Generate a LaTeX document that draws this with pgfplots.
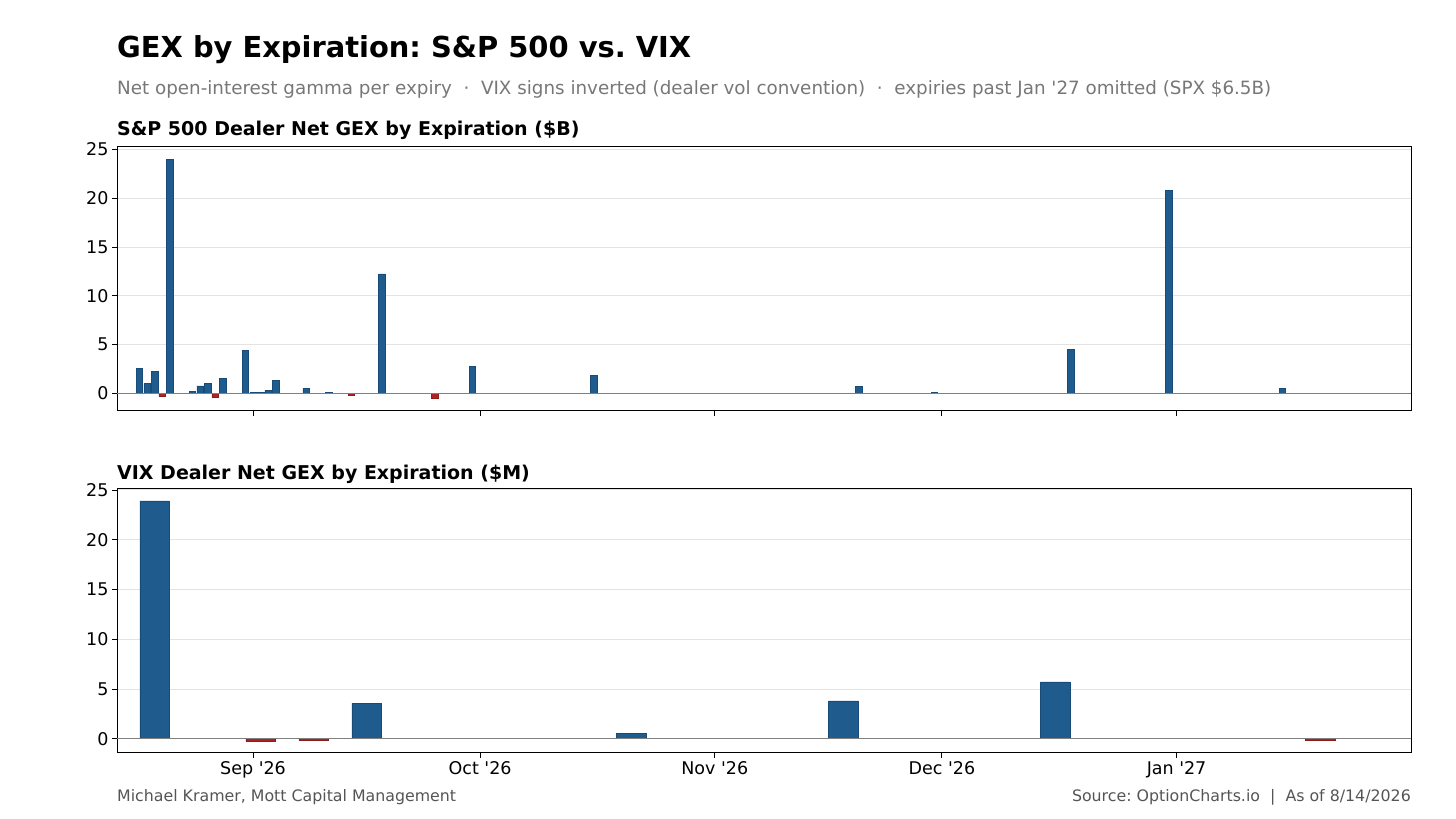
\documentclass[border=0pt]{standalone}
\usepackage{fontspec}
\setmainfont{DejaVu Sans}
\usepackage{pgfplots}
\pgfplotsset{compat=1.18}
\frenchspacing
\definecolor{barblue}{HTML}{1F5B8C}
\definecolor{baredge}{HTML}{184B78}
\definecolor{barred}{HTML}{B22222}
\definecolor{rededge}{HTML}{8E1A1A}
\definecolor{gridc}{HTML}{E3E3E3}
\definecolor{subgray}{HTML}{777777}
\definecolor{footgray}{HTML}{555555}
\definecolor{zerogray}{HTML}{808080}
\pgfplotsset{
  gexaxis/.style={
    scale only axis, width=1294pt, height=264pt,
    xmin=-17.97, xmax=152.97,
    axis line style={black, line width=1pt},
    tick style={black, line width=0.9pt},
    tick align=outside, tick pos=left,
    major tick length=5pt,
    ytick={0,5,10,15,20,25},
    xtick={0,30,61,91,122},
    ymajorgrids, grid style={gridc, line width=1pt},
    tick label style={font=\fontsize{17.5}{20}\selectfont},
    /pgf/number format/assume math mode=true,
  },
  posbar/.style={ybar, bar shift=0pt, fill=barblue, draw=baredge, line width=0.6pt},
  negbar/.style={ybar, bar shift=0pt, fill=barred, draw=rededge, line width=0.6pt},
}
\begin{document}
\frenchspacing
\begin{tikzpicture}
\useasboundingbox (0,0) rectangle (1456pt,819pt);
% titles
\node[anchor=base west, inner sep=0pt, font=\fontsize{28.9}{32}\selectfont\bfseries] at (117pt,761pt) {GEX by Expiration: S\&P 500 vs. VIX};
\node[anchor=base west, inner sep=0pt, text=subgray, font=\fontsize{18.3}{21}\selectfont] at (117pt,724pt) {Net open-interest gamma per expiry \ \textperiodcentered\ \ VIX signs inverted (dealer vol convention) \ \textperiodcentered\ \ expiries past Jan \textquotesingle 27 omitted (SPX \$6.5B)};
\node[anchor=base west, inner sep=0pt, font=\fontsize{19}{22}\selectfont\bfseries] at (117pt,683pt) {S\&P 500 Dealer Net GEX by Expiration (\$B)};
\node[anchor=base west, inner sep=0pt, font=\fontsize{19}{22}\selectfont\bfseries] at (117pt,339.5pt) {VIX Dealer Net GEX by Expiration (\$M)};
% footer
\node[anchor=base west, inner sep=0pt, text=footgray, font=\fontsize{15.8}{18}\selectfont] at (117pt,17pt) {Michael Kramer, Mott Capital Management};
\node[anchor=base east, inner sep=0pt, text=footgray, font=\fontsize{15.8}{18}\selectfont] at (1411pt,17pt) {Source: OptionCharts.io \ | \ As of 8/14/2026};

% top panel: S&P 500 ($B); x = days from 1 Sep 2026
\begin{axis}[gexaxis, at={(117pt,408pt)}, anchor=south west,
  ymin=-1.8, ymax=25.26, xticklabels={}]
\addplot[posbar, bar width=0.85] coordinates {
 (-15,2.6) (-14,1.0) (-13,2.25) (-11,24.0) (-8,0.2) (-7,0.78) (-6,1.0)
 (-4,1.54) (-1,4.38) (0,0.1) (1,0.1) (2,0.34) (3,1.37) (7,0.51) (8,0.04)
 (10,0.1) (14,0.02) (17,12.25) (29,2.8) (45,1.88) (80,0.7) (90,0.12)
 (108,4.55) (121,20.85) (136,0.55)};
\addplot[negbar, bar width=0.85] coordinates {
 (-12,-0.3) (-5,-0.35) (13,-0.15) (24,-0.55)};
\addplot[zerogray, line width=1.1pt] coordinates {(-17.97,0) (152.97,0)};
\end{axis}

% bottom panel: VIX ($M)
\begin{axis}[gexaxis, at={(117pt,66pt)}, anchor=south west,
  ymin=-1.43, ymax=25.1,
  xticklabels={Sep \textquotesingle 26,Oct \textquotesingle 26,Nov \textquotesingle 26,Dec \textquotesingle 26,Jan \textquotesingle 27}]
\addplot[posbar, bar width=3.9] coordinates {
 (-13,23.9) (-6,0.06) (15,3.56) (50,0.53) (78,3.8) (106,5.72)};
\addplot[negbar, bar width=3.9] coordinates {
 (1,-0.28) (8,-0.12) (141,-0.15)};
\addplot[zerogray, line width=1.1pt] coordinates {(-17.97,0) (152.97,0)};
\end{axis}
\end{tikzpicture}
\end{document}
